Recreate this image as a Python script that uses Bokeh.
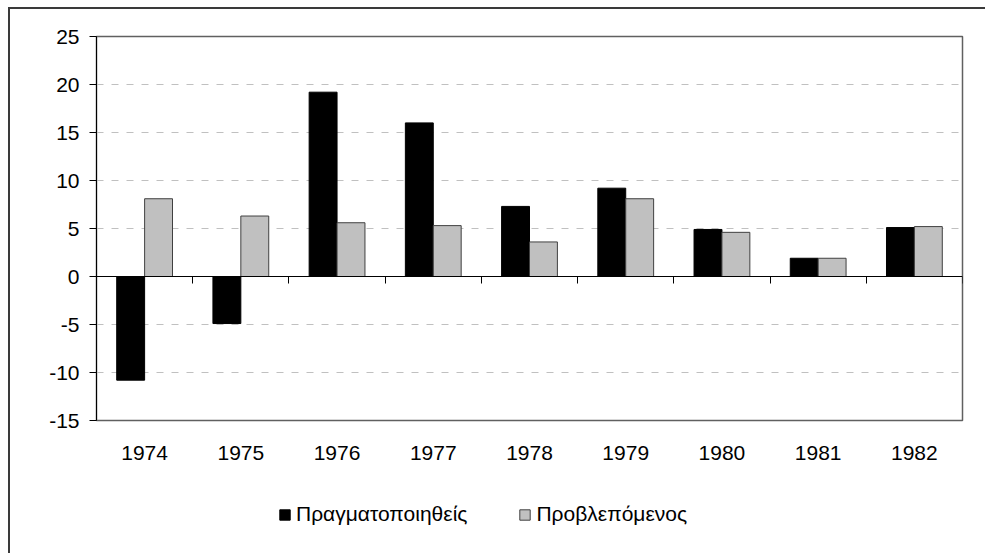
from bokeh.plotting import figure
from bokeh.layouts import column
from bokeh.models import Range1d, FixedTicker, LinearAxis, Legend, LegendItem, CustomJSTickFormatter, ColumnDataSource
from bokeh.embed import file_html
from bokeh.resources import INLINE

years = ["1974", "1975", "1976", "1977", "1978", "1979", "1980", "1981", "1982"]
actual = [-10.8, -4.9, 19.2, 16.0, 7.3, 9.2, 4.9, 1.9, 5.1]      # Πραγματοποιηθείς
forecast = [8.1, 6.3, 5.6, 5.3, 3.6, 8.1, 4.6, 1.9, 5.2]         # Προβλεπόμενος
y_ticks = [-15, -10, -5, 0, 5, 10, 15, 20, 25]
series_names = ["Πραγματοποιηθείς", "Προβλεπόμενος"]

FONT = "Liberation Sans"
BAR_W = 0.29
n = len(years)
centers = [i + 0.5 for i in range(n)]
boundaries = list(range(n + 1))

BLACK_STYLE = dict(fill_color="black", line_color="black", line_width=1)
GREY_STYLE = dict(fill_color="#c0c0c0", line_color="#404040", line_width=1)

p = figure(width=975, height=491, output_backend="svg", toolbar_location=None,
           x_range=Range1d(0, n), y_range=Range1d(y_ticks[0], y_ticks[-1]),
           min_border_left=86, min_border_top=27, min_border_right=23, min_border_bottom=80)

p.outline_line_color = "#606060"
p.outline_line_width = 1.5
p.background_fill_color = "white"
p.border_fill_color = "white"

src = ColumnDataSource(dict(
    xa=[c - BAR_W / 2 for c in centers],
    xf=[c + BAR_W / 2 for c in centers],
    actual=actual, forecast=forecast))

p.vbar(x="xa", top="actual", bottom=0, width=BAR_W, source=src, **BLACK_STYLE)
p.vbar(x="xf", top="forecast", bottom=0, width=BAR_W, source=src, **GREY_STYLE)

# grid
p.xgrid.visible = False
p.ygrid.ticker = FixedTicker(ticks=y_ticks)
p.ygrid.grid_line_color = "#c0c0c0"
p.ygrid.grid_line_dash = "7 8"
p.ygrid.grid_line_width = 1

# y axis
ya = p.yaxis[0]
ya.ticker = FixedTicker(ticks=y_ticks)
ya.formatter = CustomJSTickFormatter(code="return String(tick);")
ya.axis_line_color = "black"
ya.major_tick_line_color = "black"
ya.major_tick_out = 7
ya.major_tick_in = 0
ya.minor_tick_line_color = None
ya.major_label_text_font = FONT
ya.major_label_text_font_size = "21px"
ya.major_label_text_color = "black"
ya.major_label_standoff = 10

# x label axis (bottom)
xa = p.xaxis[0]
xa.ticker = FixedTicker(ticks=centers)
xa.formatter = CustomJSTickFormatter(args=dict(years=years), code="return years[Math.floor(tick)];")
xa.axis_line_color = None
xa.major_tick_line_color = None
xa.minor_tick_line_color = None
xa.major_label_text_font = FONT
xa.major_label_text_font_size = "21px"
xa.major_label_text_color = "black"
xa.major_label_standoff = 19

# x axis line at zero with ticks at category boundaries
zx = LinearAxis(fixed_location=0)
zx.ticker = FixedTicker(ticks=boundaries)
zx.formatter = CustomJSTickFormatter(code="return '';")
zx.axis_line_color = "black"
zx.axis_line_width = 1
zx.major_tick_line_color = "black"
zx.major_tick_out = 7
zx.major_tick_in = 0
zx.minor_tick_line_color = None
zx.major_label_standoff = 0
zx.major_label_text_font_size = "1px"
p.add_layout(zx, "below")

# legend strip below the chart (hidden renderers only supply the legend swatches)
lf = figure(width=975, height=53, output_backend="svg", toolbar_location=None,
            x_range=Range1d(0, 1), y_range=Range1d(0, 1),
            min_border_left=0, min_border_right=0, min_border_top=0, min_border_bottom=0)
lf.axis.visible = False
lf.grid.visible = False
lf.outline_line_color = None
lf.border_fill_color = "white"
g1 = lf.vbar(x="xa", top="actual", width=BAR_W, source=src, visible=False, **BLACK_STYLE)
g2 = lf.vbar(x="xf", top="forecast", width=BAR_W, source=src, visible=False, **GREY_STYLE)

legend = Legend(items=[LegendItem(label=series_names[0], renderers=[g1]),
                       LegendItem(label=series_names[1], renderers=[g2])],
                orientation="horizontal", location=(182, 27),
                glyph_width=13, glyph_height=13, label_standoff=5, spacing=51,
                padding=0, margin=0, border_line_color=None, background_fill_alpha=0,
                label_text_font=FONT, label_text_font_size="21px", label_text_color="black")
lf.add_layout(legend, "center")

layout = column(p, lf, spacing=0)
layout.styles = {"margin-left": "8px", "margin-top": "7px",
                 "border-left": "2px solid #3a3a3a", "border-top": "2px solid #3a3a3a"}

open("out.html", "w").write(file_html(layout, INLINE))
